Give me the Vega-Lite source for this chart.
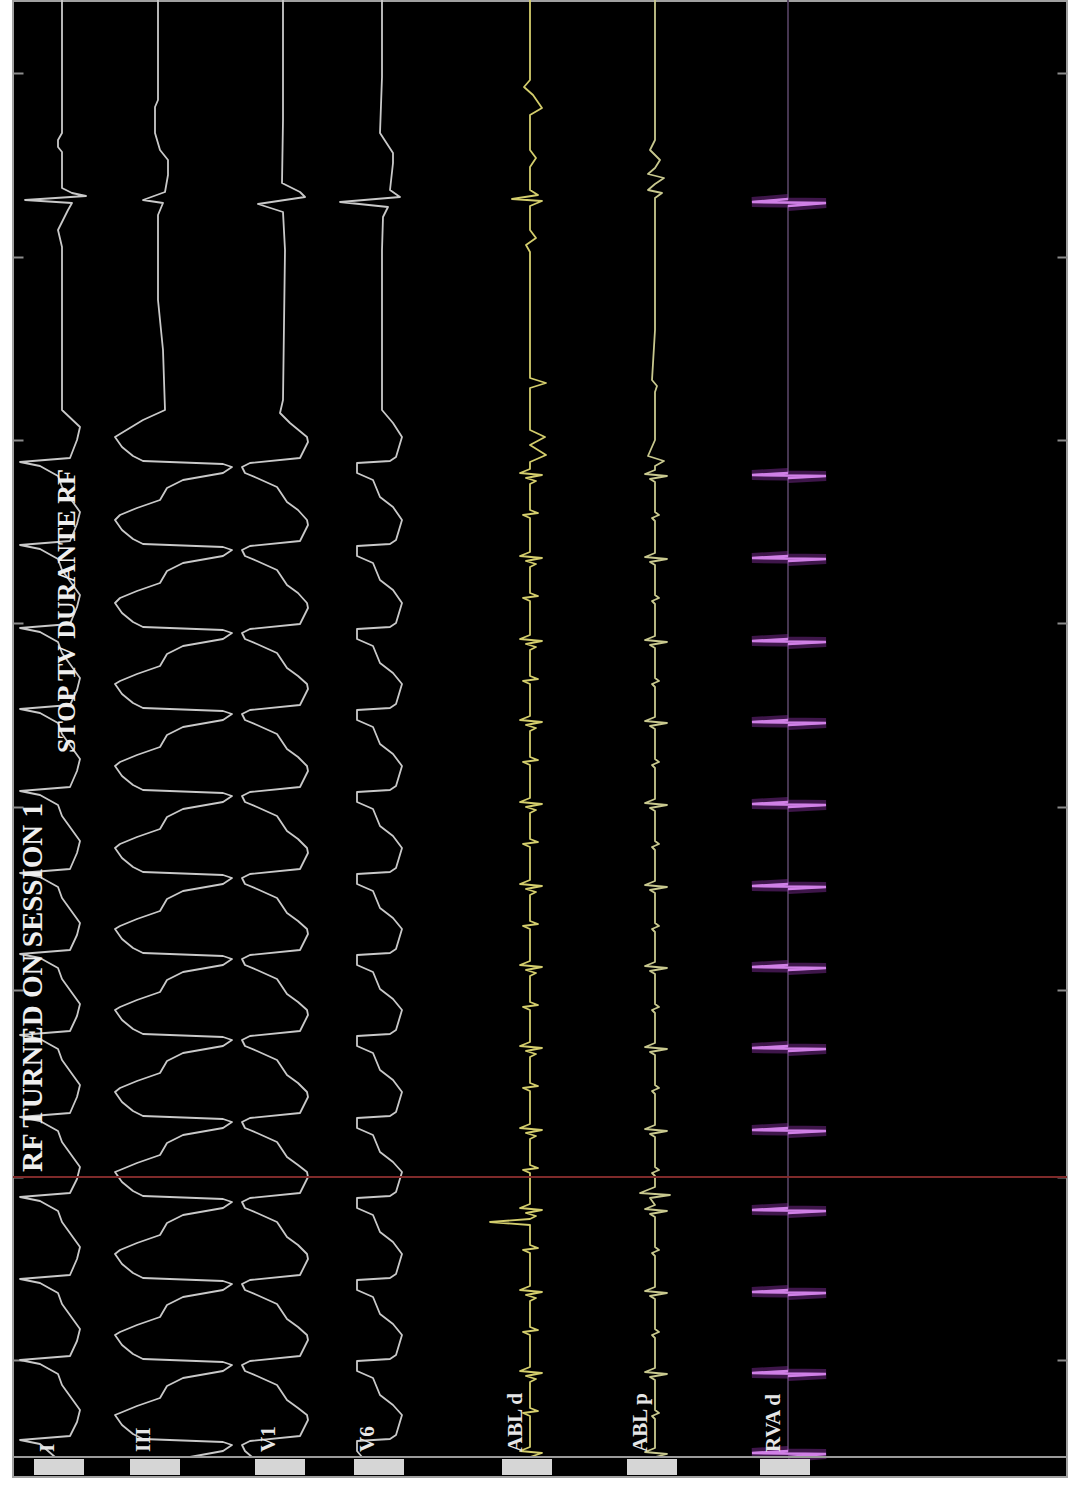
{
"$schema":"https://vega.github.io/schema/vega-lite/v6.json",
"background":"#ffffff",
"autosize":{"type":"none"},
"padding":{"left":13,"top":1,"right":6,"bottom":17},
"width":1054,"height":1476,
"config":{"view":{"fill":"#000000","stroke":"#a0a0a0","strokeWidth":2},"font":"Liberation Serif"},
"datasets":{
"labels":[{"label":"I","pos":62},{"label":"III","pos":158},{"label":"V1","pos":283},{"label":"V6","pos":382},{"label":"ABL d","pos":530},{"label":"ABL p","pos":655},{"label":"RVA d","pos":788}],
"traces":[
{"lead":"I","t":0,"v":62},{"lead":"I","t":133,"v":62},{"lead":"I","t":140,"v":58},{"lead":"I","t":147,"v":58},{"lead":"I","t":152,"v":62},{"lead":"I","t":188,"v":62},{"lead":"I","t":193,"v":72},{"lead":"I","t":196,"v":86},{"lead":"I","t":200,"v":25},{"lead":"I","t":203,"v":72},{"lead":"I","t":210,"v":68},{"lead":"I","t":230,"v":58},{"lead":"I","t":247,"v":62},{"lead":"I","t":410,"v":62},{"lead":"I","t":427,"v":80},{"lead":"I","t":440,"v":77},{"lead":"I","t":458,"v":70},
{"lead":"I","t":462,"v":20},{"lead":"I","t":466,"v":40},{"lead":"I","t":476,"v":58},{"lead":"I","t":487,"v":62},{"lead":"I","t":512,"v":80},{"lead":"I","t":524,"v":77},
{"lead":"I","t":541,"v":70},{"lead":"I","t":545,"v":20},{"lead":"I","t":549,"v":40},{"lead":"I","t":559,"v":58},{"lead":"I","t":570,"v":62},{"lead":"I","t":595,"v":80},{"lead":"I","t":607,"v":77},
{"lead":"I","t":624,"v":70},{"lead":"I","t":628,"v":20},{"lead":"I","t":632,"v":40},{"lead":"I","t":642,"v":58},{"lead":"I","t":653,"v":62},{"lead":"I","t":678,"v":80},{"lead":"I","t":690,"v":77},
{"lead":"I","t":705,"v":70},{"lead":"I","t":709,"v":20},{"lead":"I","t":713,"v":40},{"lead":"I","t":723,"v":58},{"lead":"I","t":734,"v":62},{"lead":"I","t":759,"v":80},{"lead":"I","t":771,"v":77},
{"lead":"I","t":787,"v":70},{"lead":"I","t":791,"v":20},{"lead":"I","t":795,"v":40},{"lead":"I","t":805,"v":58},{"lead":"I","t":816,"v":62},{"lead":"I","t":841,"v":80},{"lead":"I","t":853,"v":77},
{"lead":"I","t":869,"v":70},{"lead":"I","t":873,"v":20},{"lead":"I","t":877,"v":40},{"lead":"I","t":887,"v":58},{"lead":"I","t":898,"v":62},{"lead":"I","t":923,"v":80},{"lead":"I","t":935,"v":77},
{"lead":"I","t":950,"v":70},{"lead":"I","t":954,"v":20},{"lead":"I","t":958,"v":40},{"lead":"I","t":968,"v":58},{"lead":"I","t":979,"v":62},{"lead":"I","t":1004,"v":80},{"lead":"I","t":1016,"v":77},
{"lead":"I","t":1031,"v":70},{"lead":"I","t":1035,"v":20},{"lead":"I","t":1039,"v":40},{"lead":"I","t":1049,"v":58},{"lead":"I","t":1060,"v":62},{"lead":"I","t":1085,"v":80},{"lead":"I","t":1097,"v":77},
{"lead":"I","t":1113,"v":70},{"lead":"I","t":1117,"v":20},{"lead":"I","t":1121,"v":40},{"lead":"I","t":1131,"v":58},{"lead":"I","t":1142,"v":62},{"lead":"I","t":1167,"v":80},{"lead":"I","t":1179,"v":77},
{"lead":"I","t":1193,"v":70},{"lead":"I","t":1197,"v":20},{"lead":"I","t":1201,"v":40},{"lead":"I","t":1211,"v":58},{"lead":"I","t":1222,"v":62},{"lead":"I","t":1247,"v":80},{"lead":"I","t":1259,"v":77},
{"lead":"I","t":1275,"v":70},{"lead":"I","t":1279,"v":20},{"lead":"I","t":1283,"v":40},{"lead":"I","t":1293,"v":58},{"lead":"I","t":1304,"v":62},{"lead":"I","t":1329,"v":80},{"lead":"I","t":1341,"v":77},
{"lead":"I","t":1356,"v":70},{"lead":"I","t":1360,"v":20},{"lead":"I","t":1364,"v":40},{"lead":"I","t":1374,"v":58},{"lead":"I","t":1385,"v":62},{"lead":"I","t":1410,"v":80},{"lead":"I","t":1422,"v":77},
{"lead":"I","t":1436,"v":70},{"lead":"I","t":1440,"v":20},{"lead":"I","t":1444,"v":40},{"lead":"I","t":1457,"v":55},

{"lead":"III","t":0,"v":158},{"lead":"III","t":100,"v":158},{"lead":"III","t":107,"v":155},{"lead":"III","t":133,"v":155},{"lead":"III","t":150,"v":160},{"lead":"III","t":160,"v":168},{"lead":"III","t":175,"v":168},{"lead":"III","t":192,"v":165},{"lead":"III","t":200,"v":143},{"lead":"III","t":203,"v":163},{"lead":"III","t":215,"v":158},{"lead":"III","t":300,"v":158},{"lead":"III","t":350,"v":163},{"lead":"III","t":410,"v":165},{"lead":"III","t":420,"v":143},{"lead":"III","t":437,"v":115},{"lead":"III","t":447,"v":122},{"lead":"III","t":456,"v":133},{"lead":"III","t":461,"v":143},
{"lead":"III","t":464,"v":223},{"lead":"III","t":467,"v":232},{"lead":"III","t":473,"v":223},{"lead":"III","t":480,"v":183},{"lead":"III","t":488,"v":167},{"lead":"III","t":500,"v":160},{"lead":"III","t":508,"v":137},{"lead":"III","t":515,"v":120},
{"lead":"III","t":520,"v":115},{"lead":"III","t":530,"v":122},{"lead":"III","t":539,"v":133},{"lead":"III","t":544,"v":143},{"lead":"III","t":547,"v":223},{"lead":"III","t":550,"v":232},{"lead":"III","t":556,"v":223},{"lead":"III","t":563,"v":183},{"lead":"III","t":571,"v":167},{"lead":"III","t":583,"v":160},{"lead":"III","t":591,"v":137},{"lead":"III","t":598,"v":120},
{"lead":"III","t":603,"v":115},{"lead":"III","t":613,"v":122},{"lead":"III","t":622,"v":133},{"lead":"III","t":627,"v":143},{"lead":"III","t":630,"v":223},{"lead":"III","t":633,"v":232},{"lead":"III","t":639,"v":223},{"lead":"III","t":646,"v":183},{"lead":"III","t":654,"v":167},{"lead":"III","t":666,"v":160},{"lead":"III","t":674,"v":137},{"lead":"III","t":681,"v":120},
{"lead":"III","t":684,"v":115},{"lead":"III","t":694,"v":122},{"lead":"III","t":703,"v":133},{"lead":"III","t":708,"v":143},{"lead":"III","t":711,"v":223},{"lead":"III","t":714,"v":232},{"lead":"III","t":720,"v":223},{"lead":"III","t":727,"v":183},{"lead":"III","t":735,"v":167},{"lead":"III","t":747,"v":160},{"lead":"III","t":755,"v":137},{"lead":"III","t":762,"v":120},
{"lead":"III","t":766,"v":115},{"lead":"III","t":776,"v":122},{"lead":"III","t":785,"v":133},{"lead":"III","t":790,"v":143},{"lead":"III","t":793,"v":223},{"lead":"III","t":796,"v":232},{"lead":"III","t":802,"v":223},{"lead":"III","t":809,"v":183},{"lead":"III","t":817,"v":167},{"lead":"III","t":829,"v":160},{"lead":"III","t":837,"v":137},{"lead":"III","t":844,"v":120},
{"lead":"III","t":848,"v":115},{"lead":"III","t":858,"v":122},{"lead":"III","t":867,"v":133},{"lead":"III","t":872,"v":143},{"lead":"III","t":875,"v":223},{"lead":"III","t":878,"v":232},{"lead":"III","t":884,"v":223},{"lead":"III","t":891,"v":183},{"lead":"III","t":899,"v":167},{"lead":"III","t":911,"v":160},{"lead":"III","t":919,"v":137},{"lead":"III","t":926,"v":120},
{"lead":"III","t":929,"v":115},{"lead":"III","t":939,"v":122},{"lead":"III","t":948,"v":133},{"lead":"III","t":953,"v":143},{"lead":"III","t":956,"v":223},{"lead":"III","t":959,"v":232},{"lead":"III","t":965,"v":223},{"lead":"III","t":972,"v":183},{"lead":"III","t":980,"v":167},{"lead":"III","t":992,"v":160},{"lead":"III","t":1000,"v":137},{"lead":"III","t":1007,"v":120},
{"lead":"III","t":1010,"v":115},{"lead":"III","t":1020,"v":122},{"lead":"III","t":1029,"v":133},{"lead":"III","t":1034,"v":143},{"lead":"III","t":1037,"v":223},{"lead":"III","t":1040,"v":232},{"lead":"III","t":1046,"v":223},{"lead":"III","t":1053,"v":183},{"lead":"III","t":1061,"v":167},{"lead":"III","t":1073,"v":160},{"lead":"III","t":1081,"v":137},{"lead":"III","t":1088,"v":120},
{"lead":"III","t":1092,"v":115},{"lead":"III","t":1102,"v":122},{"lead":"III","t":1111,"v":133},{"lead":"III","t":1116,"v":143},{"lead":"III","t":1119,"v":223},{"lead":"III","t":1122,"v":232},{"lead":"III","t":1128,"v":223},{"lead":"III","t":1135,"v":183},{"lead":"III","t":1143,"v":167},{"lead":"III","t":1155,"v":160},{"lead":"III","t":1163,"v":137},{"lead":"III","t":1170,"v":120},
{"lead":"III","t":1172,"v":115},{"lead":"III","t":1182,"v":122},{"lead":"III","t":1191,"v":133},{"lead":"III","t":1196,"v":143},{"lead":"III","t":1199,"v":223},{"lead":"III","t":1202,"v":232},{"lead":"III","t":1208,"v":223},{"lead":"III","t":1215,"v":183},{"lead":"III","t":1223,"v":167},{"lead":"III","t":1235,"v":160},{"lead":"III","t":1243,"v":137},{"lead":"III","t":1250,"v":120},
{"lead":"III","t":1254,"v":115},{"lead":"III","t":1264,"v":122},{"lead":"III","t":1273,"v":133},{"lead":"III","t":1278,"v":143},{"lead":"III","t":1281,"v":223},{"lead":"III","t":1284,"v":232},{"lead":"III","t":1290,"v":223},{"lead":"III","t":1297,"v":183},{"lead":"III","t":1305,"v":167},{"lead":"III","t":1317,"v":160},{"lead":"III","t":1325,"v":137},{"lead":"III","t":1332,"v":120},
{"lead":"III","t":1335,"v":115},{"lead":"III","t":1345,"v":122},{"lead":"III","t":1354,"v":133},{"lead":"III","t":1359,"v":143},{"lead":"III","t":1362,"v":223},{"lead":"III","t":1365,"v":232},{"lead":"III","t":1371,"v":223},{"lead":"III","t":1378,"v":183},{"lead":"III","t":1386,"v":167},{"lead":"III","t":1398,"v":160},{"lead":"III","t":1406,"v":137},{"lead":"III","t":1413,"v":120},
{"lead":"III","t":1415,"v":115},{"lead":"III","t":1425,"v":122},{"lead":"III","t":1434,"v":133},{"lead":"III","t":1439,"v":143},{"lead":"III","t":1442,"v":223},{"lead":"III","t":1445,"v":232},{"lead":"III","t":1451,"v":223},{"lead":"III","t":1457,"v":190},

{"lead":"V1","t":0,"v":283},{"lead":"V1","t":120,"v":283},{"lead":"V1","t":183,"v":282},{"lead":"V1","t":192,"v":300},{"lead":"V1","t":197,"v":305},{"lead":"V1","t":204,"v":258},{"lead":"V1","t":212,"v":283},{"lead":"V1","t":250,"v":285},{"lead":"V1","t":400,"v":283},{"lead":"V1","t":413,"v":280},{"lead":"V1","t":423,"v":290},{"lead":"V1","t":437,"v":307},{"lead":"V1","t":442,"v":308},{"lead":"V1","t":458,"v":300},
{"lead":"V1","t":463,"v":250},{"lead":"V1","t":467,"v":242},{"lead":"V1","t":473,"v":245},{"lead":"V1","t":478,"v":257},{"lead":"V1","t":487,"v":277},{"lead":"V1","t":502,"v":287},{"lead":"V1","t":510,"v":298},
{"lead":"V1","t":520,"v":307},{"lead":"V1","t":525,"v":308},{"lead":"V1","t":541,"v":300},{"lead":"V1","t":546,"v":250},{"lead":"V1","t":550,"v":242},{"lead":"V1","t":556,"v":245},{"lead":"V1","t":561,"v":257},{"lead":"V1","t":570,"v":277},{"lead":"V1","t":585,"v":287},{"lead":"V1","t":593,"v":298},
{"lead":"V1","t":603,"v":307},{"lead":"V1","t":608,"v":308},{"lead":"V1","t":624,"v":300},{"lead":"V1","t":629,"v":250},{"lead":"V1","t":633,"v":242},{"lead":"V1","t":639,"v":245},{"lead":"V1","t":644,"v":257},{"lead":"V1","t":653,"v":277},{"lead":"V1","t":668,"v":287},{"lead":"V1","t":676,"v":298},
{"lead":"V1","t":684,"v":307},{"lead":"V1","t":689,"v":308},{"lead":"V1","t":705,"v":300},{"lead":"V1","t":710,"v":250},{"lead":"V1","t":714,"v":242},{"lead":"V1","t":720,"v":245},{"lead":"V1","t":725,"v":257},{"lead":"V1","t":734,"v":277},{"lead":"V1","t":749,"v":287},{"lead":"V1","t":757,"v":298},
{"lead":"V1","t":766,"v":307},{"lead":"V1","t":771,"v":308},{"lead":"V1","t":787,"v":300},{"lead":"V1","t":792,"v":250},{"lead":"V1","t":796,"v":242},{"lead":"V1","t":802,"v":245},{"lead":"V1","t":807,"v":257},{"lead":"V1","t":816,"v":277},{"lead":"V1","t":831,"v":287},{"lead":"V1","t":839,"v":298},
{"lead":"V1","t":848,"v":307},{"lead":"V1","t":853,"v":308},{"lead":"V1","t":869,"v":300},{"lead":"V1","t":874,"v":250},{"lead":"V1","t":878,"v":242},{"lead":"V1","t":884,"v":245},{"lead":"V1","t":889,"v":257},{"lead":"V1","t":898,"v":277},{"lead":"V1","t":913,"v":287},{"lead":"V1","t":921,"v":298},
{"lead":"V1","t":929,"v":307},{"lead":"V1","t":934,"v":308},{"lead":"V1","t":950,"v":300},{"lead":"V1","t":955,"v":250},{"lead":"V1","t":959,"v":242},{"lead":"V1","t":965,"v":245},{"lead":"V1","t":970,"v":257},{"lead":"V1","t":979,"v":277},{"lead":"V1","t":994,"v":287},{"lead":"V1","t":1002,"v":298},
{"lead":"V1","t":1010,"v":307},{"lead":"V1","t":1015,"v":308},{"lead":"V1","t":1031,"v":300},{"lead":"V1","t":1036,"v":250},{"lead":"V1","t":1040,"v":242},{"lead":"V1","t":1046,"v":245},{"lead":"V1","t":1051,"v":257},{"lead":"V1","t":1060,"v":277},{"lead":"V1","t":1075,"v":287},{"lead":"V1","t":1083,"v":298},
{"lead":"V1","t":1092,"v":307},{"lead":"V1","t":1097,"v":308},{"lead":"V1","t":1113,"v":300},{"lead":"V1","t":1118,"v":250},{"lead":"V1","t":1122,"v":242},{"lead":"V1","t":1128,"v":245},{"lead":"V1","t":1133,"v":257},{"lead":"V1","t":1142,"v":277},{"lead":"V1","t":1157,"v":287},{"lead":"V1","t":1165,"v":298},
{"lead":"V1","t":1172,"v":307},{"lead":"V1","t":1177,"v":308},{"lead":"V1","t":1193,"v":300},{"lead":"V1","t":1198,"v":250},{"lead":"V1","t":1202,"v":242},{"lead":"V1","t":1208,"v":245},{"lead":"V1","t":1213,"v":257},{"lead":"V1","t":1222,"v":277},{"lead":"V1","t":1237,"v":287},{"lead":"V1","t":1245,"v":298},
{"lead":"V1","t":1254,"v":307},{"lead":"V1","t":1259,"v":308},{"lead":"V1","t":1275,"v":300},{"lead":"V1","t":1280,"v":250},{"lead":"V1","t":1284,"v":242},{"lead":"V1","t":1290,"v":245},{"lead":"V1","t":1295,"v":257},{"lead":"V1","t":1304,"v":277},{"lead":"V1","t":1319,"v":287},{"lead":"V1","t":1327,"v":298},
{"lead":"V1","t":1335,"v":307},{"lead":"V1","t":1340,"v":308},{"lead":"V1","t":1356,"v":300},{"lead":"V1","t":1361,"v":250},{"lead":"V1","t":1365,"v":242},{"lead":"V1","t":1371,"v":245},{"lead":"V1","t":1376,"v":257},{"lead":"V1","t":1385,"v":277},{"lead":"V1","t":1400,"v":287},{"lead":"V1","t":1408,"v":298},
{"lead":"V1","t":1415,"v":307},{"lead":"V1","t":1420,"v":308},{"lead":"V1","t":1436,"v":300},{"lead":"V1","t":1441,"v":250},{"lead":"V1","t":1445,"v":242},{"lead":"V1","t":1451,"v":245},{"lead":"V1","t":1457,"v":252},

{"lead":"V6","t":0,"v":382},{"lead":"V6","t":77,"v":382},{"lead":"V6","t":133,"v":380},{"lead":"V6","t":153,"v":393},{"lead":"V6","t":163,"v":393},{"lead":"V6","t":190,"v":390},{"lead":"V6","t":197,"v":400},{"lead":"V6","t":202,"v":340},{"lead":"V6","t":207,"v":388},{"lead":"V6","t":217,"v":383},{"lead":"V6","t":250,"v":382},{"lead":"V6","t":410,"v":382},{"lead":"V6","t":423,"v":393},{"lead":"V6","t":437,"v":402},{"lead":"V6","t":457,"v":396},{"lead":"V6","t":461,"v":390},
{"lead":"V6","t":463,"v":357},{"lead":"V6","t":473,"v":357},{"lead":"V6","t":480,"v":373},{"lead":"V6","t":497,"v":380},{"lead":"V6","t":507,"v":393},
{"lead":"V6","t":520,"v":402},{"lead":"V6","t":540,"v":396},{"lead":"V6","t":544,"v":390},{"lead":"V6","t":546,"v":357},{"lead":"V6","t":556,"v":357},{"lead":"V6","t":563,"v":373},{"lead":"V6","t":580,"v":380},{"lead":"V6","t":590,"v":393},
{"lead":"V6","t":603,"v":402},{"lead":"V6","t":623,"v":396},{"lead":"V6","t":627,"v":390},{"lead":"V6","t":629,"v":357},{"lead":"V6","t":639,"v":357},{"lead":"V6","t":646,"v":373},{"lead":"V6","t":663,"v":380},{"lead":"V6","t":673,"v":393},
{"lead":"V6","t":684,"v":402},{"lead":"V6","t":704,"v":396},{"lead":"V6","t":708,"v":390},{"lead":"V6","t":710,"v":357},{"lead":"V6","t":720,"v":357},{"lead":"V6","t":727,"v":373},{"lead":"V6","t":744,"v":380},{"lead":"V6","t":754,"v":393},
{"lead":"V6","t":766,"v":402},{"lead":"V6","t":786,"v":396},{"lead":"V6","t":790,"v":390},{"lead":"V6","t":792,"v":357},{"lead":"V6","t":802,"v":357},{"lead":"V6","t":809,"v":373},{"lead":"V6","t":826,"v":380},{"lead":"V6","t":836,"v":393},
{"lead":"V6","t":848,"v":402},{"lead":"V6","t":868,"v":396},{"lead":"V6","t":872,"v":390},{"lead":"V6","t":874,"v":357},{"lead":"V6","t":884,"v":357},{"lead":"V6","t":891,"v":373},{"lead":"V6","t":908,"v":380},{"lead":"V6","t":918,"v":393},
{"lead":"V6","t":929,"v":402},{"lead":"V6","t":949,"v":396},{"lead":"V6","t":953,"v":390},{"lead":"V6","t":955,"v":357},{"lead":"V6","t":965,"v":357},{"lead":"V6","t":972,"v":373},{"lead":"V6","t":989,"v":380},{"lead":"V6","t":999,"v":393},
{"lead":"V6","t":1010,"v":402},{"lead":"V6","t":1030,"v":396},{"lead":"V6","t":1034,"v":390},{"lead":"V6","t":1036,"v":357},{"lead":"V6","t":1046,"v":357},{"lead":"V6","t":1053,"v":373},{"lead":"V6","t":1070,"v":380},{"lead":"V6","t":1080,"v":393},
{"lead":"V6","t":1092,"v":402},{"lead":"V6","t":1112,"v":396},{"lead":"V6","t":1116,"v":390},{"lead":"V6","t":1118,"v":357},{"lead":"V6","t":1128,"v":357},{"lead":"V6","t":1135,"v":373},{"lead":"V6","t":1152,"v":380},{"lead":"V6","t":1162,"v":393},
{"lead":"V6","t":1172,"v":402},{"lead":"V6","t":1192,"v":396},{"lead":"V6","t":1196,"v":390},{"lead":"V6","t":1198,"v":357},{"lead":"V6","t":1208,"v":357},{"lead":"V6","t":1215,"v":373},{"lead":"V6","t":1232,"v":380},{"lead":"V6","t":1242,"v":393},
{"lead":"V6","t":1254,"v":402},{"lead":"V6","t":1274,"v":396},{"lead":"V6","t":1278,"v":390},{"lead":"V6","t":1280,"v":357},{"lead":"V6","t":1290,"v":357},{"lead":"V6","t":1297,"v":373},{"lead":"V6","t":1314,"v":380},{"lead":"V6","t":1324,"v":393},
{"lead":"V6","t":1335,"v":402},{"lead":"V6","t":1355,"v":396},{"lead":"V6","t":1359,"v":390},{"lead":"V6","t":1361,"v":357},{"lead":"V6","t":1371,"v":357},{"lead":"V6","t":1378,"v":373},{"lead":"V6","t":1395,"v":380},{"lead":"V6","t":1405,"v":393},
{"lead":"V6","t":1415,"v":402},{"lead":"V6","t":1435,"v":396},{"lead":"V6","t":1439,"v":390},{"lead":"V6","t":1441,"v":357},{"lead":"V6","t":1451,"v":357},{"lead":"V6","t":1457,"v":362},

{"lead":"ABL d","t":0,"v":530},{"lead":"ABL d","t":80,"v":530},{"lead":"ABL d","t":87,"v":524},{"lead":"ABL d","t":95,"v":533},{"lead":"ABL d","t":108,"v":542},{"lead":"ABL d","t":115,"v":530},{"lead":"ABL d","t":150,"v":530},{"lead":"ABL d","t":158,"v":536},{"lead":"ABL d","t":167,"v":530},{"lead":"ABL d","t":190,"v":530},{"lead":"ABL d","t":195,"v":538},{"lead":"ABL d","t":199,"v":512},{"lead":"ABL d","t":201,"v":542},{"lead":"ABL d","t":206,"v":530},{"lead":"ABL d","t":230,"v":530},{"lead":"ABL d","t":238,"v":536},{"lead":"ABL d","t":245,"v":526},{"lead":"ABL d","t":252,"v":530},{"lead":"ABL d","t":378,"v":530},{"lead":"ABL d","t":383,"v":546},{"lead":"ABL d","t":388,"v":530},{"lead":"ABL d","t":430,"v":530},{"lead":"ABL d","t":437,"v":545},{"lead":"ABL d","t":445,"v":530},{"lead":"ABL d","t":455,"v":546},{"lead":"ABL d","t":462,"v":530},
{"lead":"ABL d","t":469,"v":530},{"lead":"ABL d","t":473,"v":520},{"lead":"ABL d","t":475,"v":542},{"lead":"ABL d","t":478,"v":526},{"lead":"ABL d","t":481,"v":536},{"lead":"ABL d","t":484,"v":530},{"lead":"ABL d","t":510,"v":530},{"lead":"ABL d","t":513,"v":538},{"lead":"ABL d","t":515,"v":523},{"lead":"ABL d","t":518,"v":530},
{"lead":"ABL d","t":552,"v":530},{"lead":"ABL d","t":556,"v":520},{"lead":"ABL d","t":558,"v":542},{"lead":"ABL d","t":561,"v":526},{"lead":"ABL d","t":564,"v":536},{"lead":"ABL d","t":567,"v":530},{"lead":"ABL d","t":593,"v":530},{"lead":"ABL d","t":596,"v":538},{"lead":"ABL d","t":598,"v":523},{"lead":"ABL d","t":601,"v":530},
{"lead":"ABL d","t":635,"v":530},{"lead":"ABL d","t":639,"v":520},{"lead":"ABL d","t":641,"v":542},{"lead":"ABL d","t":644,"v":526},{"lead":"ABL d","t":647,"v":536},{"lead":"ABL d","t":650,"v":530},{"lead":"ABL d","t":676,"v":530},{"lead":"ABL d","t":679,"v":538},{"lead":"ABL d","t":681,"v":523},{"lead":"ABL d","t":684,"v":530},
{"lead":"ABL d","t":716,"v":530},{"lead":"ABL d","t":720,"v":520},{"lead":"ABL d","t":722,"v":542},{"lead":"ABL d","t":725,"v":526},{"lead":"ABL d","t":728,"v":536},{"lead":"ABL d","t":731,"v":530},{"lead":"ABL d","t":757,"v":530},{"lead":"ABL d","t":760,"v":538},{"lead":"ABL d","t":762,"v":523},{"lead":"ABL d","t":765,"v":530},
{"lead":"ABL d","t":798,"v":530},{"lead":"ABL d","t":802,"v":520},{"lead":"ABL d","t":804,"v":542},{"lead":"ABL d","t":807,"v":526},{"lead":"ABL d","t":810,"v":536},{"lead":"ABL d","t":813,"v":530},{"lead":"ABL d","t":839,"v":530},{"lead":"ABL d","t":842,"v":538},{"lead":"ABL d","t":844,"v":523},{"lead":"ABL d","t":847,"v":530},
{"lead":"ABL d","t":880,"v":530},{"lead":"ABL d","t":884,"v":520},{"lead":"ABL d","t":886,"v":542},{"lead":"ABL d","t":889,"v":526},{"lead":"ABL d","t":892,"v":536},{"lead":"ABL d","t":895,"v":530},{"lead":"ABL d","t":921,"v":530},{"lead":"ABL d","t":924,"v":538},{"lead":"ABL d","t":926,"v":523},{"lead":"ABL d","t":929,"v":530},
{"lead":"ABL d","t":961,"v":530},{"lead":"ABL d","t":965,"v":520},{"lead":"ABL d","t":967,"v":542},{"lead":"ABL d","t":970,"v":526},{"lead":"ABL d","t":973,"v":536},{"lead":"ABL d","t":976,"v":530},{"lead":"ABL d","t":1002,"v":530},{"lead":"ABL d","t":1005,"v":538},{"lead":"ABL d","t":1007,"v":523},{"lead":"ABL d","t":1010,"v":530},
{"lead":"ABL d","t":1042,"v":530},{"lead":"ABL d","t":1046,"v":520},{"lead":"ABL d","t":1048,"v":542},{"lead":"ABL d","t":1051,"v":526},{"lead":"ABL d","t":1054,"v":536},{"lead":"ABL d","t":1057,"v":530},{"lead":"ABL d","t":1083,"v":530},{"lead":"ABL d","t":1086,"v":538},{"lead":"ABL d","t":1088,"v":523},{"lead":"ABL d","t":1091,"v":530},
{"lead":"ABL d","t":1124,"v":530},{"lead":"ABL d","t":1128,"v":520},{"lead":"ABL d","t":1130,"v":542},{"lead":"ABL d","t":1133,"v":526},{"lead":"ABL d","t":1136,"v":536},{"lead":"ABL d","t":1139,"v":530},{"lead":"ABL d","t":1165,"v":530},{"lead":"ABL d","t":1168,"v":538},{"lead":"ABL d","t":1170,"v":523},{"lead":"ABL d","t":1173,"v":530},
{"lead":"ABL d","t":1204,"v":530},{"lead":"ABL d","t":1208,"v":520},{"lead":"ABL d","t":1210,"v":542},{"lead":"ABL d","t":1213,"v":526},{"lead":"ABL d","t":1216,"v":536},{"lead":"ABL d","t":1219,"v":530},{"lead":"ABL d","t":1222,"v":490},{"lead":"ABL d","t":1225,"v":530},{"lead":"ABL d","t":1245,"v":530},{"lead":"ABL d","t":1248,"v":538},{"lead":"ABL d","t":1250,"v":523},{"lead":"ABL d","t":1253,"v":530},
{"lead":"ABL d","t":1286,"v":530},{"lead":"ABL d","t":1290,"v":520},{"lead":"ABL d","t":1292,"v":542},{"lead":"ABL d","t":1295,"v":526},{"lead":"ABL d","t":1298,"v":536},{"lead":"ABL d","t":1301,"v":530},{"lead":"ABL d","t":1327,"v":530},{"lead":"ABL d","t":1330,"v":538},{"lead":"ABL d","t":1332,"v":523},{"lead":"ABL d","t":1335,"v":530},
{"lead":"ABL d","t":1367,"v":530},{"lead":"ABL d","t":1371,"v":520},{"lead":"ABL d","t":1373,"v":542},{"lead":"ABL d","t":1376,"v":526},{"lead":"ABL d","t":1379,"v":536},{"lead":"ABL d","t":1382,"v":530},{"lead":"ABL d","t":1408,"v":530},{"lead":"ABL d","t":1411,"v":538},{"lead":"ABL d","t":1413,"v":523},{"lead":"ABL d","t":1416,"v":530},
{"lead":"ABL d","t":1447,"v":530},{"lead":"ABL d","t":1451,"v":520},{"lead":"ABL d","t":1453,"v":542},{"lead":"ABL d","t":1457,"v":530},

{"lead":"ABL p","t":0,"v":655},{"lead":"ABL p","t":140,"v":655},{"lead":"ABL p","t":150,"v":650},{"lead":"ABL p","t":160,"v":660},{"lead":"ABL p","t":168,"v":655},{"lead":"ABL p","t":174,"v":648},{"lead":"ABL p","t":178,"v":664},{"lead":"ABL p","t":184,"v":655},{"lead":"ABL p","t":190,"v":648},{"lead":"ABL p","t":193,"v":662},{"lead":"ABL p","t":198,"v":655},{"lead":"ABL p","t":330,"v":655},{"lead":"ABL p","t":380,"v":652},{"lead":"ABL p","t":386,"v":657},{"lead":"ABL p","t":392,"v":655},{"lead":"ABL p","t":440,"v":655},{"lead":"ABL p","t":456,"v":648},{"lead":"ABL p","t":461,"v":664},{"lead":"ABL p","t":466,"v":655},
{"lead":"ABL p","t":470,"v":655},{"lead":"ABL p","t":474,"v":645},{"lead":"ABL p","t":476,"v":667},{"lead":"ABL p","t":479,"v":650},{"lead":"ABL p","t":482,"v":655},{"lead":"ABL p","t":512,"v":655},{"lead":"ABL p","t":515,"v":659},{"lead":"ABL p","t":518,"v":652},{"lead":"ABL p","t":521,"v":655},
{"lead":"ABL p","t":553,"v":655},{"lead":"ABL p","t":557,"v":645},{"lead":"ABL p","t":559,"v":667},{"lead":"ABL p","t":562,"v":650},{"lead":"ABL p","t":565,"v":655},{"lead":"ABL p","t":595,"v":655},{"lead":"ABL p","t":598,"v":659},{"lead":"ABL p","t":601,"v":652},{"lead":"ABL p","t":604,"v":655},
{"lead":"ABL p","t":636,"v":655},{"lead":"ABL p","t":640,"v":645},{"lead":"ABL p","t":642,"v":667},{"lead":"ABL p","t":645,"v":650},{"lead":"ABL p","t":648,"v":655},{"lead":"ABL p","t":678,"v":655},{"lead":"ABL p","t":681,"v":659},{"lead":"ABL p","t":684,"v":652},{"lead":"ABL p","t":687,"v":655},
{"lead":"ABL p","t":717,"v":655},{"lead":"ABL p","t":721,"v":645},{"lead":"ABL p","t":723,"v":667},{"lead":"ABL p","t":726,"v":650},{"lead":"ABL p","t":729,"v":655},{"lead":"ABL p","t":759,"v":655},{"lead":"ABL p","t":762,"v":659},{"lead":"ABL p","t":765,"v":652},{"lead":"ABL p","t":768,"v":655},
{"lead":"ABL p","t":799,"v":655},{"lead":"ABL p","t":803,"v":645},{"lead":"ABL p","t":805,"v":667},{"lead":"ABL p","t":808,"v":650},{"lead":"ABL p","t":811,"v":655},{"lead":"ABL p","t":841,"v":655},{"lead":"ABL p","t":844,"v":659},{"lead":"ABL p","t":847,"v":652},{"lead":"ABL p","t":850,"v":655},
{"lead":"ABL p","t":881,"v":655},{"lead":"ABL p","t":885,"v":645},{"lead":"ABL p","t":887,"v":667},{"lead":"ABL p","t":890,"v":650},{"lead":"ABL p","t":893,"v":655},{"lead":"ABL p","t":923,"v":655},{"lead":"ABL p","t":926,"v":659},{"lead":"ABL p","t":929,"v":652},{"lead":"ABL p","t":932,"v":655},
{"lead":"ABL p","t":962,"v":655},{"lead":"ABL p","t":966,"v":645},{"lead":"ABL p","t":968,"v":667},{"lead":"ABL p","t":971,"v":650},{"lead":"ABL p","t":974,"v":655},{"lead":"ABL p","t":1004,"v":655},{"lead":"ABL p","t":1007,"v":659},{"lead":"ABL p","t":1010,"v":652},{"lead":"ABL p","t":1013,"v":655},
{"lead":"ABL p","t":1043,"v":655},{"lead":"ABL p","t":1047,"v":645},{"lead":"ABL p","t":1049,"v":667},{"lead":"ABL p","t":1052,"v":650},{"lead":"ABL p","t":1055,"v":655},{"lead":"ABL p","t":1085,"v":655},{"lead":"ABL p","t":1088,"v":659},{"lead":"ABL p","t":1091,"v":652},{"lead":"ABL p","t":1094,"v":655},
{"lead":"ABL p","t":1125,"v":655},{"lead":"ABL p","t":1129,"v":645},{"lead":"ABL p","t":1131,"v":667},{"lead":"ABL p","t":1134,"v":650},{"lead":"ABL p","t":1137,"v":655},{"lead":"ABL p","t":1167,"v":655},{"lead":"ABL p","t":1170,"v":659},{"lead":"ABL p","t":1173,"v":652},{"lead":"ABL p","t":1176,"v":655},
{"lead":"ABL p","t":1187,"v":655},{"lead":"ABL p","t":1193,"v":640},{"lead":"ABL p","t":1195,"v":670},{"lead":"ABL p","t":1198,"v":650},{"lead":"ABL p","t":1205,"v":655},{"lead":"ABL p","t":1209,"v":645},{"lead":"ABL p","t":1211,"v":667},{"lead":"ABL p","t":1214,"v":650},{"lead":"ABL p","t":1217,"v":655},{"lead":"ABL p","t":1247,"v":655},{"lead":"ABL p","t":1250,"v":659},{"lead":"ABL p","t":1253,"v":652},{"lead":"ABL p","t":1256,"v":655},
{"lead":"ABL p","t":1287,"v":655},{"lead":"ABL p","t":1291,"v":645},{"lead":"ABL p","t":1293,"v":667},{"lead":"ABL p","t":1296,"v":650},{"lead":"ABL p","t":1299,"v":655},{"lead":"ABL p","t":1329,"v":655},{"lead":"ABL p","t":1332,"v":659},{"lead":"ABL p","t":1335,"v":652},{"lead":"ABL p","t":1338,"v":655},
{"lead":"ABL p","t":1368,"v":655},{"lead":"ABL p","t":1372,"v":645},{"lead":"ABL p","t":1374,"v":667},{"lead":"ABL p","t":1377,"v":650},{"lead":"ABL p","t":1380,"v":655},{"lead":"ABL p","t":1410,"v":655},{"lead":"ABL p","t":1413,"v":659},{"lead":"ABL p","t":1416,"v":652},{"lead":"ABL p","t":1419,"v":655},
{"lead":"ABL p","t":1448,"v":655},{"lead":"ABL p","t":1452,"v":645},{"lead":"ABL p","t":1454,"v":667},{"lead":"ABL p","t":1457,"v":655},

{"lead":"RVA d","t":0,"v":788,"b":0},
{"lead":"RVA d","t":199,"v":788,"b":1},{"lead":"RVA d","t":202,"v":752,"b":1},{"lead":"RVA d","t":203,"v":826,"b":1},{"lead":"RVA d","t":206,"v":788,"b":1},
{"lead":"RVA d","t":473,"v":788,"b":2},{"lead":"RVA d","t":475,"v":752,"b":2},{"lead":"RVA d","t":476,"v":826,"b":2},{"lead":"RVA d","t":478,"v":788,"b":2},
{"lead":"RVA d","t":556,"v":788,"b":3},{"lead":"RVA d","t":558,"v":752,"b":3},{"lead":"RVA d","t":559,"v":826,"b":3},{"lead":"RVA d","t":561,"v":788,"b":3},
{"lead":"RVA d","t":639,"v":788,"b":4},{"lead":"RVA d","t":641,"v":752,"b":4},{"lead":"RVA d","t":642,"v":826,"b":4},{"lead":"RVA d","t":644,"v":788,"b":4},
{"lead":"RVA d","t":720,"v":788,"b":5},{"lead":"RVA d","t":722,"v":752,"b":5},{"lead":"RVA d","t":723,"v":826,"b":5},{"lead":"RVA d","t":725,"v":788,"b":5},
{"lead":"RVA d","t":802,"v":788,"b":6},{"lead":"RVA d","t":804,"v":752,"b":6},{"lead":"RVA d","t":805,"v":826,"b":6},{"lead":"RVA d","t":807,"v":788,"b":6},
{"lead":"RVA d","t":884,"v":788,"b":7},{"lead":"RVA d","t":886,"v":752,"b":7},{"lead":"RVA d","t":887,"v":826,"b":7},{"lead":"RVA d","t":889,"v":788,"b":7},
{"lead":"RVA d","t":965,"v":788,"b":8},{"lead":"RVA d","t":967,"v":752,"b":8},{"lead":"RVA d","t":968,"v":826,"b":8},{"lead":"RVA d","t":970,"v":788,"b":8},
{"lead":"RVA d","t":1046,"v":788,"b":9},{"lead":"RVA d","t":1048,"v":752,"b":9},{"lead":"RVA d","t":1049,"v":826,"b":9},{"lead":"RVA d","t":1051,"v":788,"b":9},
{"lead":"RVA d","t":1128,"v":788,"b":10},{"lead":"RVA d","t":1130,"v":752,"b":10},{"lead":"RVA d","t":1131,"v":826,"b":10},{"lead":"RVA d","t":1133,"v":788,"b":10},
{"lead":"RVA d","t":1208,"v":788,"b":11},{"lead":"RVA d","t":1210,"v":752,"b":11},{"lead":"RVA d","t":1211,"v":826,"b":11},{"lead":"RVA d","t":1213,"v":788,"b":11},
{"lead":"RVA d","t":1290,"v":788,"b":12},{"lead":"RVA d","t":1292,"v":752,"b":12},{"lead":"RVA d","t":1293,"v":826,"b":12},{"lead":"RVA d","t":1295,"v":788,"b":12},
{"lead":"RVA d","t":1371,"v":788,"b":13},{"lead":"RVA d","t":1373,"v":752,"b":13},{"lead":"RVA d","t":1374,"v":826,"b":13},{"lead":"RVA d","t":1376,"v":788,"b":13},
{"lead":"RVA d","t":1451,"v":788,"b":14},{"lead":"RVA d","t":1453,"v":752,"b":14},{"lead":"RVA d","t":1454,"v":826,"b":14},{"lead":"RVA d","t":1457,"v":788,"b":14}
]
},
"resolve":{"axis":{"y":"independent"}},
"layer":[
{"data":{"name":"traces"},"transform":[{"filter":{"field":"lead","oneOf":["I","III","V1","V6"]}}],
"mark":{"type":"line","color":"#c9c9c9","strokeWidth":1.8,"strokeJoin":"round"},
"encoding":{
"x":{"field":"v","type":"quantitative","scale":{"domain":[13,1067],"nice":false,"zero":false},"axis":null},
"y":{"field":"t","type":"quantitative","scale":{"domain":[1,1477],"reverse":true,"nice":false,"zero":false},
"axis":{"orient":"left","values":[73,257,440,623,807,990,1177,1360],"tickSize":-10,"tickWidth":2,"tickColor":"#8c8c8c","labels":false,"domain":false,"grid":false,"title":null}},
"detail":{"field":"lead"},
"order":{"field":"t","type":"quantitative"}}},
{"data":{"name":"traces"},"transform":[{"filter":{"field":"lead","oneOf":["ABL d","ABL p"]}}],
"mark":{"type":"line","strokeWidth":1.8,"strokeJoin":"round"},
"encoding":{
"x":{"field":"v","type":"quantitative","axis":null},
"y":{"field":"t","type":"quantitative",
"axis":{"orient":"right","values":[73,257,440,623,807,990,1177,1360],"tickSize":-10,"tickWidth":2,"tickColor":"#8c8c8c","labels":false,"domain":false,"grid":false,"title":null}},
"color":{"field":"lead","type":"nominal","scale":{"domain":["ABL d","ABL p"],"range":["#d3cd6c","#c8c88e"]},"legend":null},
"order":{"field":"t","type":"quantitative"}}},
{"data":{"name":"traces"},"transform":[{"filter":"datum.lead == 'RVA d'"}],
"mark":{"type":"line","color":"#4e3c5a","strokeWidth":1.8},
"encoding":{
"x":{"field":"v","type":"quantitative","axis":null},
"y":{"field":"t","type":"quantitative","axis":null},
"order":{"field":"t","type":"quantitative"}}},
{"data":{"name":"traces"},"transform":[{"filter":"datum.lead == 'RVA d' && datum.b > 0"}],
"mark":{"type":"line","color":"#9a36b8","strokeWidth":10,"opacity":0.4},
"encoding":{
"x":{"field":"v","type":"quantitative","axis":null},
"y":{"field":"t","type":"quantitative","axis":null},
"detail":{"field":"b"},
"order":{"field":"t","type":"quantitative"}}},
{"data":{"name":"traces"},"transform":[{"filter":"datum.lead == 'RVA d' && datum.b > 0"}],
"mark":{"type":"line","color":"#d080e6","strokeWidth":2.5},
"encoding":{
"x":{"field":"v","type":"quantitative","axis":null},
"y":{"field":"t","type":"quantitative","axis":null},
"detail":{"field":"b"},
"order":{"field":"t","type":"quantitative"}}},
{"data":{"values":[{"event":"RF on","t":1177}]},
"mark":{"type":"rule","color":"#7e2a2a","strokeWidth":2},
"encoding":{"y":{"field":"t","type":"quantitative","axis":null}}},
{"data":{"values":[{"edge":"label strip","t":1457}]},
"mark":{"type":"rule","color":"#9a9a9a","strokeWidth":2},
"encoding":{"y":{"field":"t","type":"quantitative","axis":null}}},
{"data":{"values":[{"note":"RF TURNED ON SESSION 1","t":1172}]},
"mark":{"type":"text","angle":270,"align":"left","baseline":"alphabetic","fontSize":29,"fontWeight":"bold","color":"#eeeeee","font":"Liberation Serif"},
"encoding":{"x":{"datum":42,"type":"quantitative","axis":null},"y":{"field":"t","type":"quantitative","axis":null},"text":{"field":"note"}}},
{"data":{"values":[{"note":"STOP TV DURANTE RF","t":753}]},
"mark":{"type":"text","angle":270,"align":"left","baseline":"alphabetic","fontSize":26,"fontWeight":"bold","color":"#eeeeee","font":"Liberation Serif"},
"encoding":{"x":{"datum":75,"type":"quantitative","axis":null},"y":{"field":"t","type":"quantitative","axis":null},"text":{"field":"note"}}},
{"data":{"name":"labels"},
"mark":{"type":"text","angle":270,"align":"left","baseline":"alphabetic","dy":-8,"fontSize":21,"fontWeight":"bold","color":"#e6e6e6","font":"Liberation Serif"},
"encoding":{"x":{"field":"pos","type":"quantitative","axis":null},"y":{"datum":1452,"type":"quantitative","axis":null},"text":{"field":"label"}}},
{"data":{"name":"labels"},
"mark":{"type":"point","shape":"M-1.12,-0.32H0.88V0.32H-1.12Z","size":2500,"filled":true,"color":"#d6d6d6","opacity":1,"strokeWidth":0},
"encoding":{"x":{"field":"pos","type":"quantitative","axis":null},"y":{"datum":1467,"type":"quantitative","axis":null}}}
]
}
